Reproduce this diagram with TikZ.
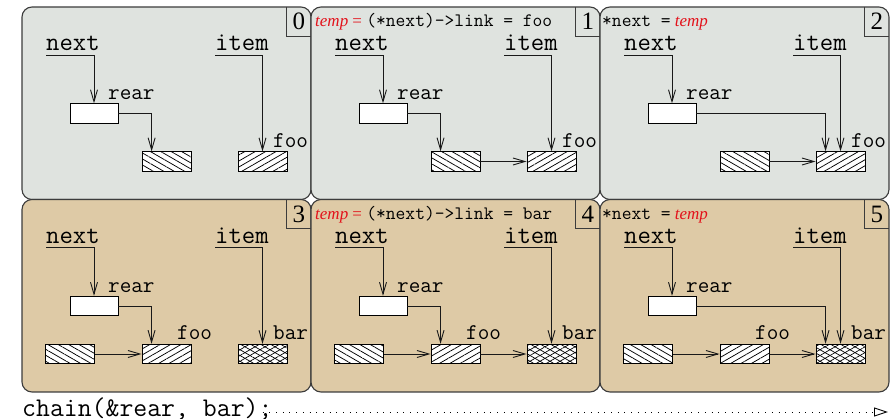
\documentclass[tikz,border=0pt]{standalone}
\usepackage{fontspec}
\setmainfont{Liberation Serif}
\usetikzlibrary{arrows.meta,patterns.meta}

\definecolor{topfill}{HTML}{DFE3DF}
\definecolor{lowfill}{HTML}{DECAA6}
\definecolor{framegray}{HTML}{3C3C3C}
\definecolor{tempred}{HTML}{E3121B}

% code set inside a stage heading
\newcommand\hcode[1]{{\fontsize{19}{19}\selectfont\ttfamily #1}}

\tikzset{
  panel/.style={draw=framegray, line width=1.1pt, rounded corners=10pt},
  numtag/.style={minimum width=24pt, minimum height=29pt, inner sep=0pt,
    anchor=north east, font=\fontsize{25}{25}\selectfont},
  var/.style={anchor=base west, inner xsep=0pt, inner ysep=4pt, text depth=0pt,
    font=\fontsize{26}{26}\selectfont\ttfamily},
  tag/.style={anchor=base west, inner sep=0pt, font=\fontsize{22.5}{22.5}\selectfont\ttfamily},
  head/.style={anchor=base west, inner sep=0pt, font=\fontsize{17}{17}\selectfont},
  cell/.style={draw=black, line width=0.9pt, preaction={fill=white},
    minimum width=49pt, minimum height=19.5pt, inner sep=0pt},
  back/.style={cell, pattern={Lines[angle=-30,distance=5.2pt,line width=0.75pt]}},
  fwd/.style={cell, pattern={Lines[angle=30,distance=5.2pt,line width=0.75pt]}},
  cross/.style={cell, preaction={pattern={Lines[angle=30,distance=5pt,line width=0.7pt]}},
    pattern={Lines[angle=-30,distance=5pt,line width=0.7pt]}},
  ptr/.style={line width=0.9pt, draw=black!90, -{Straight Barb[length=12pt,width=7pt]}},
}

% frame, step number, the two variables and the rear cell of one stage
\newcommand\drawstage[3]{%
  \path[panel, fill=#3] (0,0) rectangle (289,192.5);
  \node[numtag] (k#1) at (289,0) {#2};
  \draw[framegray, line width=1.1pt] (k#1.north west) |- (k#1.south east);
  \node[var] (nx#1) at (24,44) {next};
  \node[var] (it#1) at (193,44) {item};
  \node[cell, minimum width=48pt] (w#1) at (72,106.5) {};
  \node[tag] (r#1) at (86,93) {rear};
  \draw[ptr] (nx#1.south west) -| (w#1.north);
}

\begin{document}
\begin{tikzpicture}[x=1pt, y=-1pt]
\useasboundingbox (0,0) rectangle (892,419);

% ---- first row: appending foo
\begin{scope}[shift={(22,7)}]
  \drawstage{0}{0}{topfill}
  \node[back] (a0) at (144.5,154.5) {};
  \node[fwd] (b0) at (240.5,154.5) {};
  \node[tag] (f0) at (251,141) {foo};
  \draw[ptr] (w0.east) -| ([xshift=10pt]a0.north west);
  \draw[ptr] (it0.south west) -| (b0.north);
\end{scope}

\begin{scope}[shift={(311,7)}]
  \drawstage{1}{1}{topfill}
  \node[head] (h1) at (4,20) {{\color{tempred}\textit{temp} =} \hcode{(*next)->link = foo}};
  \node[back] (a1) at (144.5,154.5) {};
  \node[fwd] (b1) at (240.5,154.5) {};
  \node[tag] (f1) at (251,141) {foo};
  \draw[ptr] (w1.east) -| ([xshift=10pt]a1.north west);
  \draw[ptr] (it1.south west) -| (b1.north);
  \draw[ptr] (a1.east) -- (b1.west);
\end{scope}

\begin{scope}[shift={(600,7)}]
  \drawstage{2}{2}{topfill}
  \node[head] (h2) at (2,20) {\hcode{*next =} {\color{tempred}\textit{temp}}};
  \node[back] (a2) at (144.5,154.5) {};
  \node[fwd] (b2) at (240.5,154.5) {};
  \node[tag] (f2) at (251,141) {foo};
  \draw[ptr] (w2.east) -| ([xshift=10pt]b2.north west);
  \draw[ptr] (it2.south west) -| (b2.north);
  \draw[ptr] (a2.east) -- (b2.west);
\end{scope}

% ---- second row: appending bar
\begin{scope}[shift={(22,199.5)}]
  \drawstage{3}{3}{lowfill}
  \node[back] (c3) at (48,154.5) {};
  \node[fwd] (a3) at (144.5,154.5) {};
  \node[cross] (b3) at (240.5,154.5) {};
  \node[tag] (f3) at (155,140.5) {foo};
  \node[tag] (g3) at (251,140.5) {bar};
  \draw[ptr] (w3.east) -| ([xshift=10pt]a3.north west);
  \draw[ptr] (it3.south west) -| (b3.north);
  \draw[ptr] (c3.east) -- (a3.west);
\end{scope}

\begin{scope}[shift={(311,199.5)}]
  \drawstage{4}{4}{lowfill}
  \node[head] (h4) at (4,20) {{\color{tempred}\textit{temp} =} \hcode{(*next)->link = bar}};
  \node[back] (c4) at (48,154.5) {};
  \node[fwd] (a4) at (144.5,154.5) {};
  \node[cross] (b4) at (240.5,154.5) {};
  \node[tag] (f4) at (155,140.5) {foo};
  \node[tag] (g4) at (251,140.5) {bar};
  \draw[ptr] (w4.east) -| ([xshift=10pt]a4.north west);
  \draw[ptr] (it4.south west) -| (b4.north);
  \draw[ptr] (c4.east) -- (a4.west);
  \draw[ptr] (a4.east) -- (b4.west);
\end{scope}

\begin{scope}[shift={(600,199.5)}]
  \drawstage{5}{5}{lowfill}
  \node[head] (h5) at (2,20) {\hcode{*next =} {\color{tempred}\textit{temp}}};
  \node[back] (c5) at (48,154.5) {};
  \node[fwd] (a5) at (144.5,154.5) {};
  \node[cross] (b5) at (240.5,154.5) {};
  \node[tag] (f5) at (155,140.5) {foo};
  \node[tag] (g5) at (251,140.5) {bar};
  \draw[ptr] (w5.east) -| ([xshift=10pt]b5.north west);
  \draw[ptr] (it5.south west) -| (b5.north);
  \draw[ptr] (c5.east) -- (a5.west);
  \draw[ptr] (a5.east) -- (b5.west);
\end{scope}

% ---- the call and its time line
\node[anchor=base west, inner sep=0pt, font=\fontsize{27}{27}\selectfont\ttfamily]
  (call) at (22,417) {chain(\&rear, bar);};
\coordinate (tip) at (888,412);
\draw[line width=0.9pt, dash pattern=on 0.9pt off 5.8pt,
      -{Triangle[open,length=14pt,width=9pt,line width=0.9pt]}]
  ([xshift=-10pt]call.east |- tip) -- (tip);
\end{tikzpicture}
\end{document}
